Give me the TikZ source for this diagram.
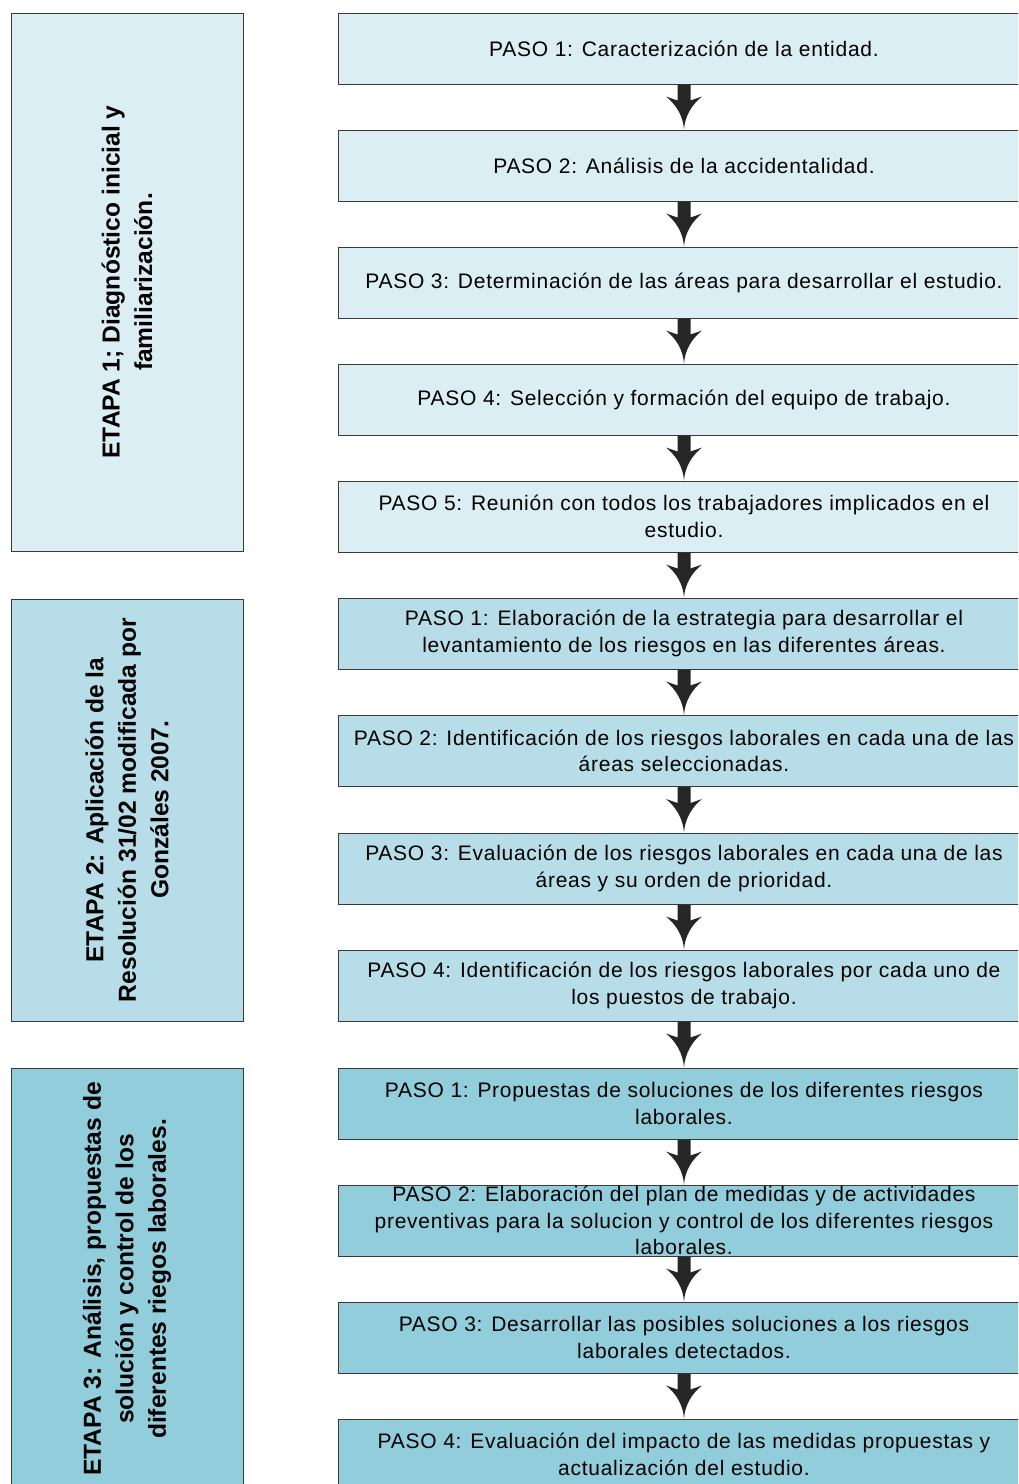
\documentclass[tikz,border=0pt]{standalone}
\usepackage{fontspec}
\setmainfont{Liberation Sans}
\newfontfamily\stepfont[LetterSpace=3.5]{Liberation Sans}
\usetikzlibrary{calc}

\definecolor{etapaA}{HTML}{DAEEF3}
\definecolor{etapaB}{HTML}{B7DEE8}
\definecolor{etapaC}{HTML}{92CDDC}
\definecolor{edge}{HTML}{3A3A3A}
\definecolor{arrowdark}{HTML}{262626}

\tikzset{
  stagebox/.style={draw=edge, line width=1pt, rectangle, minimum width=232, minimum height=#1, inner sep=0pt},
  stagetext/.style={rotate=90, align=center, inner sep=0pt,
    font=\bfseries\fontsize{24.6}{32.5}\selectfont},
  stepbox/.style={draw=edge, line width=1pt, rectangle, minimum width=692, minimum height=71, inner sep=0pt},
  steptext/.style={align=center, inner sep=0pt, font=\stepfont\fontsize{21}{26.5}\selectfont},
  arrowfill/.style={fill=arrowdark}
}

% thick block arrow with a concave head, from the bottom of one box to the top of the next
\newcommand\fatarrow[2]{%
  \fill[arrowfill] ($(#1.south)+(-6.5,0)$) -- ($(#1.south)+(6.5,0)$) -- ($(#1.south)+(6.5,16)$)
    -- ($(#1.south)+(18,12)$)
    .. controls ($(#1.south)+(8,20)$) and ($(#2.north)+(1,-14)$) .. (#2.north)
    .. controls ($(#2.north)+(-1,-14)$) and ($(#1.south)+(-8,20)$) .. ($(#1.south)+(-18,12)$)
    -- ($(#1.south)+(-6.5,16)$) -- cycle;}

% a step: box plus its centred caption
\newcommand\stepnode[4]{%
  \node[stepbox, fill=#2] (#1) at (684,#3) {};
  \node[steptext] (#1t) at (#1.center) {#4};}

\begin{document}
\begin{tikzpicture}[x=1pt,y=-1pt]
\useasboundingbox (0,0) rectangle (1018,1484);
\clip (0,0) rectangle (1018,1484);
\fill[white] (0,0) rectangle (1018,1484);

% stages
\node[stagebox=538, fill=etapaA] (e1) at (127,282) {};
\node[stagetext] (e1t) at (e1.center) {ETAPA 1; Diagnóstico inicial y\\familiarización.};
\node[stagebox=422, fill=etapaB] (e2) at (127,810) {};
\node[stagetext] (e2t) at (e2.center) {ETAPA 2: Aplicación de la\\Resolución 31/02 modificada por\\Gonzáles 2007.};
\node[stagebox=422, fill=etapaC] (e3) at (127,1279) {};
\node[stagetext] (e3t) at (e3.center) {ETAPA 3: Análisis, propuestas de\\solución y control de los\\diferentes riegos laborales.};

% steps
\stepnode{p1}{etapaA}{48.5}{PASO 1: Caracterización de la entidad.}
\stepnode{p2}{etapaA}{165.5}{PASO 2: Análisis de la accidentalidad.}
\stepnode{p3}{etapaA}{282.5}{PASO 3: Determinación de las áreas para desarrollar el estudio.}
\stepnode{p4}{etapaA}{399.5}{PASO 4: Selección y formación del equipo de trabajo.}
\stepnode{p5}{etapaA}{516.5}{PASO 5: Reunión con todos los trabajadores implicados en el\\estudio.}
\stepnode{p6}{etapaB}{633.5}{PASO 1: Elaboración de la estrategia para desarrollar el\\levantamiento de los riesgos en las diferentes áreas.}
\stepnode{p7}{etapaB}{751}{PASO 2: Identificación de los riesgos laborales en cada una de las\\áreas seleccionadas.}
\stepnode{p8}{etapaB}{868.5}{PASO 3: Evaluación de los riesgos laborales en cada una de las\\áreas y su orden de prioridad.}
\stepnode{p9}{etapaB}{985.5}{PASO 4: Identificación de los riesgos laborales por cada uno de\\los puestos de trabajo.}
\stepnode{p10}{etapaC}{1103.5}{PASO 1: Propuestas de soluciones de los diferentes riesgos\\laborales.}
\stepnode{p11}{etapaC}{1220.5}{PASO 2: Elaboración del plan de medidas y de actividades\\preventivas para la solucion y control de los diferentes riesgos\\laborales.}
\stepnode{p12}{etapaC}{1337.5}{PASO 3: Desarrollar las posibles soluciones a los riesgos\\laborales detectados.}
\stepnode{p13}{etapaC}{1454.5}{PASO 4: Evaluación del impacto de las medidas propuestas y\\actualización del estudio.}

% flow arrows
\fatarrow{p1}{p2}
\fatarrow{p2}{p3}
\fatarrow{p3}{p4}
\fatarrow{p4}{p5}
\fatarrow{p5}{p6}
\fatarrow{p6}{p7}
\fatarrow{p7}{p8}
\fatarrow{p8}{p9}
\fatarrow{p9}{p10}
\fatarrow{p10}{p11}
\fatarrow{p11}{p12}
\fatarrow{p12}{p13}
\end{tikzpicture}
\end{document}
